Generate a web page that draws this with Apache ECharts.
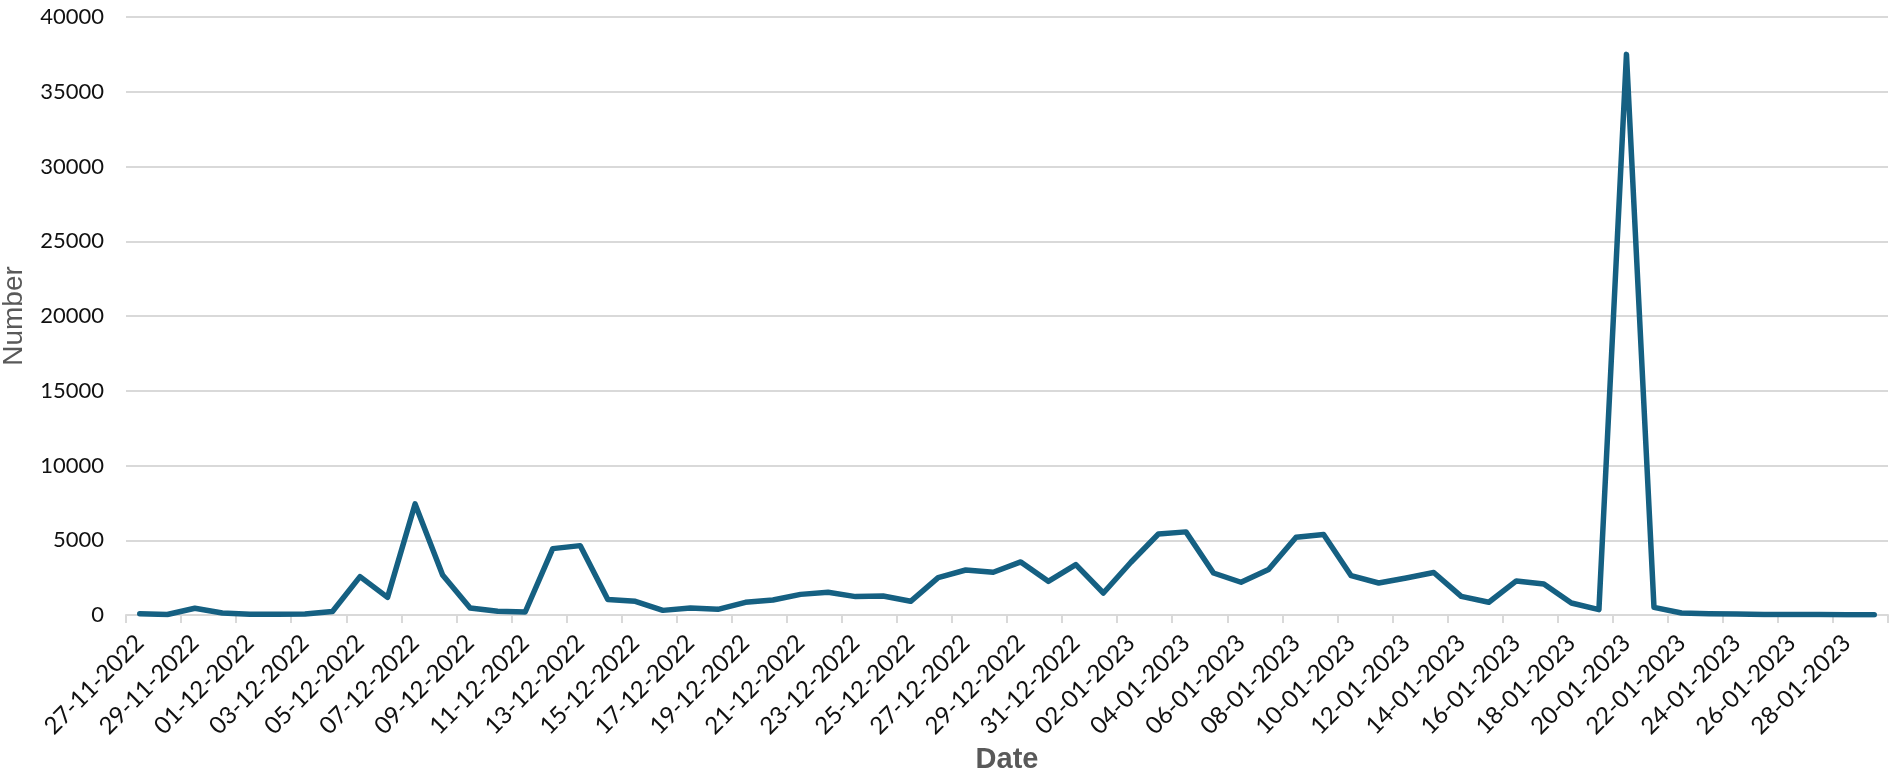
<!DOCTYPE html>
<html>
<head>
<meta charset="utf-8">
<script src="https://cdn.jsdelivr.net/npm/echarts@6/dist/echarts.min.js"></script>
<style>
html,body{margin:0;padding:0;background:#fff;}
#chart{width:1892px;height:775px;}
</style>
</head>
<body>
<div id="chart"></div>
<script>
const dates = [
  "27-11-2022","28-11-2022","29-11-2022","30-11-2022",
  "01-12-2022","02-12-2022","03-12-2022","04-12-2022","05-12-2022","06-12-2022","07-12-2022","08-12-2022",
  "09-12-2022","10-12-2022","11-12-2022","12-12-2022","13-12-2022","14-12-2022","15-12-2022","16-12-2022",
  "17-12-2022","18-12-2022","19-12-2022","20-12-2022","21-12-2022","22-12-2022","23-12-2022","24-12-2022",
  "25-12-2022","26-12-2022","27-12-2022","28-12-2022","29-12-2022","30-12-2022","31-12-2022",
  "01-01-2023","02-01-2023","03-01-2023","04-01-2023","05-01-2023","06-01-2023","07-01-2023","08-01-2023",
  "09-01-2023","10-01-2023","11-01-2023","12-01-2023","13-01-2023","14-01-2023","15-01-2023","16-01-2023",
  "17-01-2023","18-01-2023","19-01-2023","20-01-2023","21-01-2023","22-01-2023","23-01-2023","24-01-2023",
  "25-01-2023","26-01-2023","27-01-2023","28-01-2023","29-01-2023"
];
const numbers = [
  80, 30, 450, 130, 50, 50, 60, 230, 2570, 1180, 7430, 2680, 470, 250, 200, 4440,
  4640, 1030, 915, 310, 470, 380, 850, 1000, 1380, 1520, 1230, 1270, 915, 2500, 3010, 2860,
  3550, 2250, 3370, 1470, 3530, 5420, 5560, 2810, 2190, 3040, 5200, 5380, 2630, 2140, 2480, 2840,
  1250, 850, 2280, 2080, 800, 360, 37500, 510, 130, 80, 60, 40, 30, 30, 20, 20
];
const yTicks = { min: 0, max: 40000, interval: 5000 };
const xTitle = "Date";
const yTitle = "Number";

const chart = echarts.init(document.getElementById('chart'), null, { renderer: 'canvas' });
chart.setOption({
  animation: false,
  backgroundColor: '#ffffff',
  grid: { left: 126, right: 4, top: 17, bottom: 160, containLabel: false, outerBoundsMode: 'none' },
  xAxis: {
    type: 'category',
    data: dates,
    boundaryGap: true,
    name: xTitle,
    nameLocation: 'middle',
    nameGap: 123,
    nameTextStyle: { fontFamily: 'Liberation Sans', fontWeight: 'bold', fontSize: 29, color: '#595959' },
    axisLine: { show: true, lineStyle: { color: '#d9d9d9', width: 2 } },
    axisTick: { show: true, interval: 1, length: 8, lineStyle: { color: '#d9d9d9', width: 2 } },
    axisLabel: {
      interval: 1, rotate: 45, margin: 24,
      fontFamily: 'Lato', fontSize: 24, color: '#111111'
    },
    splitLine: { show: false }
  },
  yAxis: {
    type: 'value',
    min: yTicks.min, max: yTicks.max, interval: yTicks.interval,
    name: yTitle,
    nameLocation: 'middle',
    nameRotate: 90,
    nameGap: 98,
    nameTextStyle: { fontFamily: 'Liberation Sans', fontSize: 28, color: '#595959' },
    axisLine: { show: false },
    axisTick: { show: false },
    axisLabel: {
      margin: 22, fontFamily: 'Lato', fontSize: 22, color: '#111111',
      formatter: function (v) { return String(v); }
    },
    splitLine: { show: true, lineStyle: { color: '#d9d9d9', width: 2 } }
  },
  series: [{
    type: 'line',
    data: numbers,
    showSymbol: false,
    symbol: 'none',
    lineStyle: { color: '#156082', width: 5.5, cap: 'round', join: 'round' },
    itemStyle: { color: '#156082' }
  }]
});
</script>
</body>
</html>
